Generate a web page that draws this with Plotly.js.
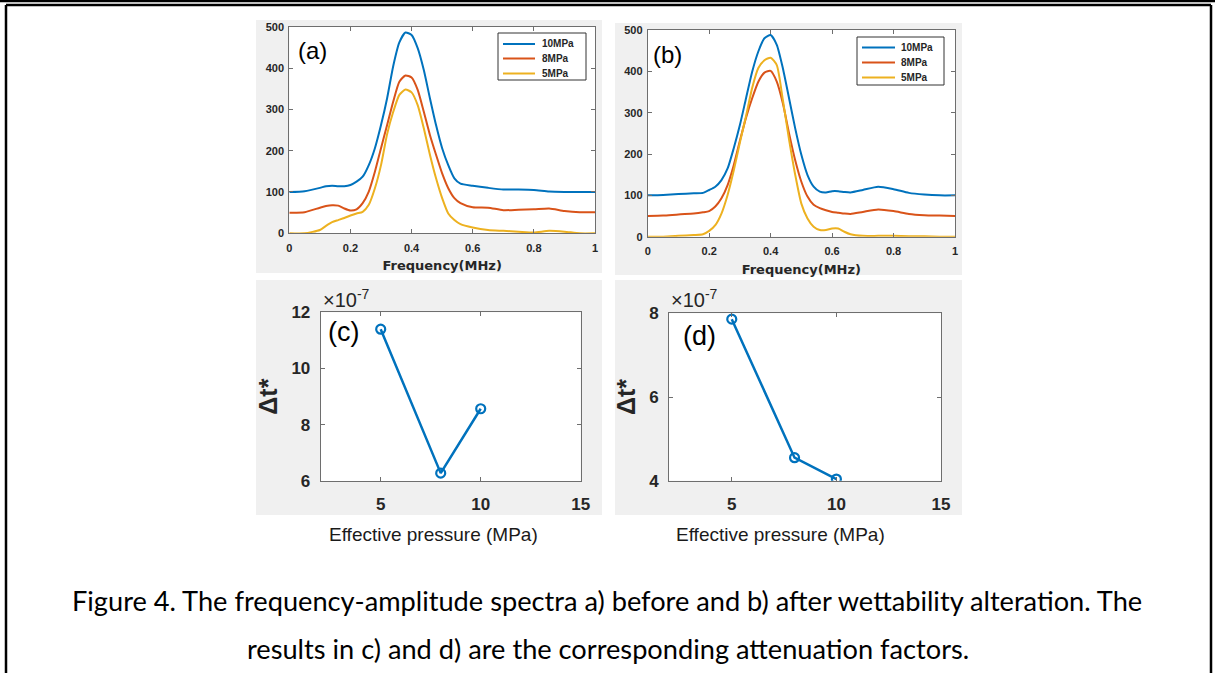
<!DOCTYPE html>
<html><head><meta charset="utf-8">
<script src="https://cdn.plot.ly/plotly-3.0.1.min.js"></script>
<style>html,body{margin:0;padding:0;background:#fff;}#chart{width:1215px;height:673px;}</style>
</head><body><div id="chart"></div>
<script>
// ---------- DATA ----------
const seriesNames = ['10MPa', '8MPa', '5MPa'];
const seriesColors = ['#0072BD', '#D95319', '#EDB120'];

// Panel (a): before wettability alteration
const freqA = [0,0.05,0.1,0.12,0.14,0.16,0.18,0.2,0.22,0.24,0.26,0.28,0.30,0.32,0.34,0.36,0.38,0.40,0.42,0.44,0.46,0.48,0.50,0.52,0.54,0.56,0.6,0.65,0.7,0.75,0.8,0.85,0.9,0.95,1];
const ampA10 = [100,102,110,114,115,114,114,117,125,137,165,206,262,327,405,462,486,480,448,395,327,262,206,165,133,120,115,110,106,106,105,101,100,100,100];
const ampA8  = [50,51,62,66,68,67,60,55,58,73,101,149,206,262,319,367,382,377,347,294,238,190,145,109,85,73,63,62,56,57,58,60,54,51,51];
const ampA5  = [0,0,8,18,27,32,37,43,48,52,69,109,165,240,294,335,348,341,310,254,190,133,85,48,32,22,14,8,6,4,2,6,4,0,0];

// Panel (b): after wettability alteration
const freqB = [0,0.05,0.1,0.15,0.18,0.2,0.22,0.24,0.26,0.28,0.30,0.32,0.34,0.36,0.38,0.40,0.42,0.44,0.46,0.48,0.50,0.52,0.54,0.56,0.58,0.6,0.62,0.64,0.66,0.7,0.75,0.8,0.85,0.9,0.95,1];
const ampB10 = [100,101,103,105,106,113,121,137,165,214,270,335,399,448,480,488,464,407,335,262,198,149,121,109,107,110,110,108,107,113,121,115,106,102,100,100];
const ampB8  = [50,51,54,56,59,62,73,93,125,173,232,288,335,375,397,401,375,322,250,185,133,97,77,69,64,60,58,56,55,60,66,62,55,52,51,50];
const ampB5  = [0,0,2,4,6,14,28,56,101,160,228,292,360,408,427,433,415,330,235,150,80,44,24,16,16,20,20,12,6,2,2,2,1,1,0,0];

// Panels (c) and (d): attenuation factor (units of 1e-7)
const pressure = [5, 8, 10];
const dtC = [11.4, 6.28, 8.57];
const dtD = [7.86, 4.55, 4.04];

// Tick labels
const freqTicks = [0, 0.2, 0.4, 0.6, 0.8, 1];
const freqTickText = ['0', '0.2', '0.4', '0.6', '0.8', '1'];
const ampTicks = [0, 100, 200, 300, 400, 500];
const pressTicks = [5, 10, 15];
const dtTicksC = [6, 8, 10, 12];
const dtTicksD = [4, 6, 8];

const captionLines = [
  'Figure 4. The frequency-amplitude spectra a) before and b) after wettability alteration. The',
  'results in c) and d) are the corresponding attenuation factors.'
];

// ---------- LAYOUT HELPERS ----------
const W = 1215, H = 673;
const px = x => x / W;
const py = y => 1 - y / H;
const AX = '#6e6e6e';
const TXT = '#262626';
const tickFontSmall = {family: 'Liberation Sans, Arial, sans-serif', size: 11, color: TXT, weight: 'bold'};
const tickFontBig = {family: 'Liberation Sans, Arial, sans-serif', size: 17, color: TXT, weight: 'bold'};

function axis(extra) {
  return Object.assign({
    showline: true, linecolor: AX, linewidth: 1, mirror: 'ticks',
    ticks: 'inside', ticklen: 4, tickcolor: AX, tickwidth: 1,
    showgrid: false, zeroline: false, fixedrange: true
  }, extra);
}

const traces = [];
[ampA10, ampA8, ampA5].forEach((v, i) => traces.push({
  x: freqA, y: v, xaxis: 'x', yaxis: 'y', type: 'scatter', mode: 'lines', name: seriesNames[i],
  line: {color: seriesColors[i], width: 2, shape: 'spline', smoothing: 0.6}, showlegend: false, hoverinfo: 'skip'
}));
[ampB10, ampB8, ampB5].forEach((v, i) => traces.push({
  x: freqB, y: v, xaxis: 'x2', yaxis: 'y2', type: 'scatter', mode: 'lines', name: seriesNames[i],
  line: {color: seriesColors[i], width: 2, shape: 'spline', smoothing: 0.6}, showlegend: false, hoverinfo: 'skip'
}));
traces.push({x: pressure, y: dtC, xaxis: 'x3', yaxis: 'y3', type: 'scatter', mode: 'lines+markers',
  line: {color: '#0072BD', width: 2.5}, marker: {symbol: 'circle-open', size: 9, color: '#0072BD', line: {width: 2.2}},
  showlegend: false, hoverinfo: 'skip'});
traces.push({x: pressure, y: dtD, xaxis: 'x4', yaxis: 'y4', type: 'scatter', mode: 'lines+markers',
  line: {color: '#0072BD', width: 2.5}, marker: {symbol: 'circle-open', size: 9, color: '#0072BD', line: {width: 2.2}},
  showlegend: false, hoverinfo: 'skip'});

// ---------- SHAPES ----------
const shapes = [];
function prect(x0, y0, x1, y1, fill) {
  shapes.push({type: 'rect', xref: 'paper', yref: 'paper', x0: px(x0), x1: px(x1), y0: py(y1), y1: py(y0),
    fillcolor: fill, line: {width: 0}, layer: 'below'});
}
function pline(x0, y0, x1, y1, color, w) {
  shapes.push({type: 'line', xref: 'paper', yref: 'paper', x0: px(x0), x1: px(x1), y0: py(y0), y1: py(y1),
    line: {color: color, width: w}, layer: 'above'});
}
// grey figure backgrounds
prect(256, 20, 602, 273, '#f0f0f0');
prect(615, 23, 962, 275, '#f0f0f0');
prect(256, 280, 602, 515, '#f0f0f0');
prect(615, 280, 962, 515, '#f0f0f0');
// white plot areas
['', '2', '3', '4'].forEach(s => shapes.push({type: 'rect', xref: 'x' + s + ' domain', yref: 'y' + s + ' domain',
  x0: 0, x1: 1, y0: 0, y1: 1, fillcolor: '#ffffff', line: {width: 0}, layer: 'below'}));
// outer frame
pline(0, 1, 1215, 1, '#000', 2.5);
pline(6, 5, 1211, 5, '#000', 2.5);
pline(6, 5, 6, 673, '#000', 2.5);
pline(1211, 5, 1211, 673, '#000', 2.5);

// ---------- ANNOTATIONS ----------
const annotations = [];
function ann(text, x, y, font, xa, ya, extra) {
  annotations.push(Object.assign({text: text, xref: 'paper', yref: 'paper', x: px(x), y: py(y),
    xanchor: xa || 'center', yanchor: ya || 'middle', showarrow: false, font: font}, extra || {}));
}
const panelFont = s => ({family: 'Liberation Sans, Arial, sans-serif', size: s, color: '#000'});
ann('(a)', 296, 51, panelFont(24), 'left');
ann('(b)', 651, 54, panelFont(24), 'left');
ann('(c)', 326, 332, panelFont(27), 'left');
ann('(d)', 681, 336, panelFont(27), 'left');
const expFont = {family: 'Liberation Sans, Arial, sans-serif', size: 20, color: TXT};
ann('×10<sup>-7</sup>', 321, 313, expFont, 'left', 'bottom');
ann('×10<sup>-7</sup>', 669, 313, expFont, 'left', 'bottom');
// x-axis titles of (c) and (d), placed as in the figure
const xtFont = {family: 'Liberation Sans, Arial, sans-serif', size: 19, color: '#1a1a1a'};
ann('Effective pressure (MPa)', 434, 534, xtFont);
ann('Effective pressure (MPa)', 780, 534, xtFont);

// manual legends (MATLAB style)
function legend(bx0, by0, bx1, by1, lx0, lx1, tx, ys) {
  shapes.push({type: 'rect', xref: 'paper', yref: 'paper', x0: px(bx0), x1: px(bx1), y0: py(by1), y1: py(by0),
    fillcolor: '#fff', line: {color: '#333', width: 1}, layer: 'above'});
  seriesNames.forEach((n, i) => {
    pline(lx0, ys[i], lx1, ys[i], seriesColors[i], 2);
    ann(n, tx, ys[i], {family: 'Liberation Sans, Arial, sans-serif', size: 10, color: TXT, weight: 'bold'}, 'left');
  });
}
legend(498, 33, 586, 80, 503, 535, 540, [44, 58.5, 73.5]);
legend(857, 37, 944, 85, 862, 895, 899, [47.5, 62.5, 77.5]);

// caption
const capFont = {family: 'Lato, Carlito, sans-serif', size: 27.2, color: '#000'};
ann(captionLines[0], 607, 600, capFont);
ann(captionLines[1], 608, 648, capFont);

const freqTitle = {text: 'Frequency(MHz)', font: {family: 'DejaVu Sans, sans-serif', size: 13, color: TXT, weight: 'bold'}, standoff: 8};
const dtTitle = {text: 'Δt*', font: {family: 'Liberation Sans, Arial, sans-serif', size: 25, color: TXT, weight: 'bold'}, standoff: 6};

const layout = {
  width: W, height: H, margin: {l: 0, r: 0, t: 0, b: 0},
  paper_bgcolor: '#ffffff', plot_bgcolor: '#ffffff', showlegend: false,
  xaxis: axis({anchor: 'y', domain: [px(289.3), px(595)], range: [0, 1], tickvals: freqTicks, ticktext: freqTickText,
    tickfont: tickFontSmall, ticklabelstandoff: 4, title: freqTitle}),
  yaxis: axis({anchor: 'x', domain: [py(233.3), py(26.7)], range: [0, 500], tickvals: ampTicks, tickfont: tickFontSmall, ticklabelstandoff: 2}),
  xaxis2: axis({anchor: 'y2', domain: [px(647.7), px(955)], range: [0, 1], tickvals: freqTicks, ticktext: freqTickText,
    tickfont: tickFontSmall, ticklabelstandoff: 4, title: freqTitle}),
  yaxis2: axis({anchor: 'x2', domain: [py(236.7), py(30)], range: [0, 500], tickvals: ampTicks, tickfont: tickFontSmall, ticklabelstandoff: 2}),
  xaxis3: axis({anchor: 'y3', domain: [px(320.7), px(580.7)], range: [2, 15], tickvals: pressTicks, tickfont: tickFontBig, ticklabelstandoff: 8}),
  yaxis3: axis({anchor: 'x3', domain: [py(481), py(312.3)], range: [6, 12], tickvals: dtTicksC, tickfont: tickFontBig, ticklabelstandoff: 6, title: dtTitle}),
  xaxis4: axis({anchor: 'y4', domain: [px(669), px(941)], range: [2, 15], tickvals: pressTicks, tickfont: tickFontBig, ticklabelstandoff: 8}),
  yaxis4: axis({anchor: 'x4', domain: [py(480.7), py(313.3)], range: [4, 8], tickvals: dtTicksD, tickfont: tickFontBig, ticklabelstandoff: 6, title: dtTitle}),
  shapes: shapes, annotations: annotations
};

Plotly.newPlot('chart', traces, layout, {staticPlot: true, displayModeBar: false});
</script></body></html>
